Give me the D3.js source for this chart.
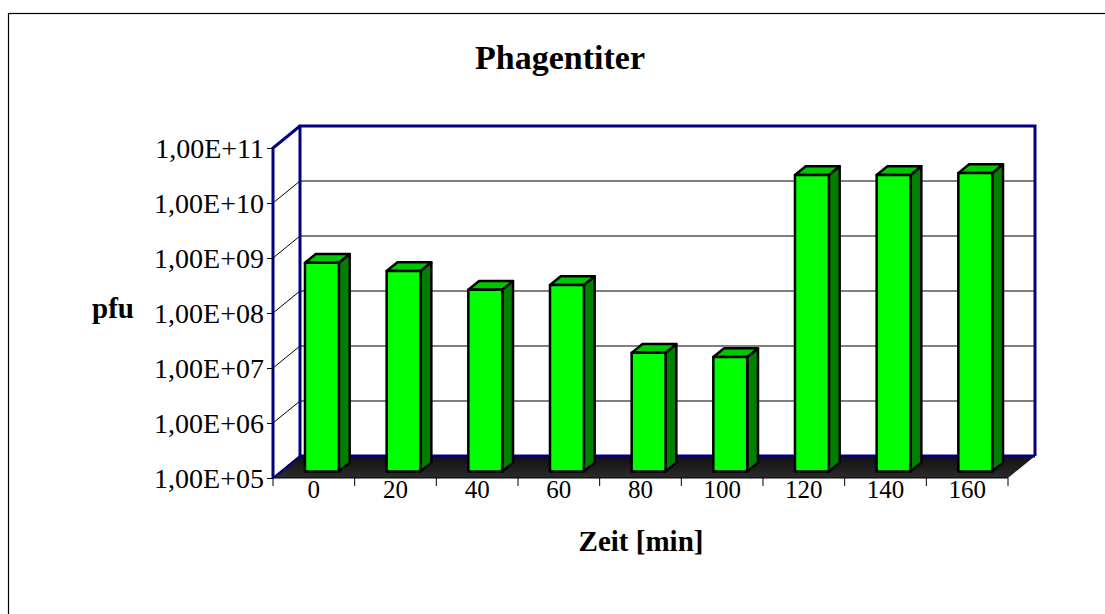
<!DOCTYPE html>
<html>
<head>
<meta charset="utf-8">
<script src="https://cdn.jsdelivr.net/npm/d3@7/dist/d3.min.js"></script>
<style>
  html, body { margin: 0; padding: 0; background: #fff; }
  svg { display: block; }
  text { font-family: "Liberation Serif", "Times New Roman", serif; fill: #000; }
</style>
</head>
<body>
<svg id="chart" width="1105" height="614"></svg>
<script>
// Phage titre (plaque forming units) sampled every 20 minutes
const categories = ["0", "20", "40", "60", "80", "100", "120", "140", "160"];
const pfuValues = [6.2e8, 4.4e8, 2.0e8, 2.45e8, 1.43e7, 1.2e7, 2.45e10, 2.45e10, 2.65e10];
const tickValues = [1e5, 1e6, 1e7, 1e8, 1e9, 1e10, 1e11];
const tickLabels = ["1,00E+05", "1,00E+06", "1,00E+07", "1,00E+08", "1,00E+09", "1,00E+10", "1,00E+11"];

const svg = d3.select("#chart");

// plot frame (front plane) and 3D depth offset
const plotLeft = 273, plotRight = 1008, plotBottom = 478, plotTop = 148;
const depthX = 27, depthY = -22;
const barFront = 0.3, barBack = 0.7;   // depth range occupied by the columns
const barWidthRatio = 0.415;

const x = d3.scaleBand().domain(categories).range([plotLeft, plotRight]);
const y = d3.scaleLog().domain([1e5, 1e11]).range([plotBottom, plotTop]);

// project a front-plane point back by depth fraction d
const P = (px, py, d) => [px + d * depthX, py + d * depthY];
const poly = pts => pts.map(p => p.join(",")).join(" ");

// outer chart border
svg.append("rect")
  .attr("x", 8.5).attr("y", 13.5)
  .attr("width", 1200).attr("height", 700)
  .attr("fill", "none").attr("stroke", "#000").attr("stroke-width", 1.2);

// title
svg.append("text")
  .attr("x", 560).attr("y", 69)
  .attr("text-anchor", "middle")
  .attr("font-size", 34).attr("font-weight", "bold")
  .text("Phagentiter");

const wallColor = "#000080";

// left side wall
svg.append("polygon")
  .attr("points", poly([[plotLeft, plotBottom], [plotLeft, plotTop], P(plotLeft, plotTop, 1), P(plotLeft, plotBottom, 1)]))
  .attr("fill", "#fff");

// back wall
svg.append("polygon")
  .attr("points", poly([P(plotLeft, plotTop, 1), P(plotRight, plotTop, 1), P(plotRight, plotBottom, 1), P(plotLeft, plotBottom, 1)]))
  .attr("fill", "#fff");

// gridlines: diagonal on side wall, horizontal on back wall
const grid = svg.append("g");
tickValues.forEach(v => {
  const yy = y(v);
  grid.append("line")
    .attr("x1", plotLeft).attr("y1", yy)
    .attr("x2", P(plotLeft, yy, 1)[0]).attr("y2", P(plotLeft, yy, 1)[1])
    .attr("stroke", "#000").attr("stroke-width", 1);
  grid.append("line")
    .attr("x1", P(plotLeft, yy, 1)[0]).attr("y1", P(plotLeft, yy, 1)[1])
    .attr("x2", P(plotRight, yy, 1)[0]).attr("y2", P(plotRight, yy, 1)[1])
    .attr("stroke", "#000").attr("stroke-width", 1);
});

// wall outlines
svg.append("polyline")
  .attr("points", poly([P(plotLeft, plotBottom, 1), P(plotLeft, plotTop, 1), P(plotRight, plotTop, 1), P(plotRight, plotBottom, 1)]))
  .attr("fill", "none").attr("stroke", wallColor).attr("stroke-width", 3);
svg.append("polyline")
  .attr("points", poly([[plotLeft, plotBottom], [plotLeft, plotTop], P(plotLeft, plotTop, 1)]))
  .attr("fill", "none").attr("stroke", wallColor).attr("stroke-width", 3);

// floor
const floorGrad = svg.append("defs").append("linearGradient")
  .attr("id", "floorGrad").attr("x1", 0).attr("y1", 0).attr("x2", 0).attr("y2", 1);
floorGrad.append("stop").attr("offset", 0).attr("stop-color", "#111");
floorGrad.append("stop").attr("offset", 1).attr("stop-color", "#2a2a2a");
svg.append("polygon")
  .attr("points", poly([[plotLeft, plotBottom], [plotRight, plotBottom], P(plotRight, plotBottom, 1), P(plotLeft, plotBottom, 1)]))
  .attr("fill", "url(#floorGrad)");
svg.append("line")
  .attr("x1", P(plotLeft, plotBottom, 1)[0]).attr("y1", P(plotLeft, plotBottom, 1)[1])
  .attr("x2", P(plotRight, plotBottom, 1)[0]).attr("y2", P(plotRight, plotBottom, 1)[1])
  .attr("stroke", wallColor).attr("stroke-width", 3);
svg.append("line")
  .attr("x1", plotLeft).attr("y1", plotBottom).attr("x2", P(plotLeft, plotBottom, 1)[0]).attr("y2", P(plotLeft, plotBottom, 1)[1])
  .attr("stroke", wallColor).attr("stroke-width", 2);

// columns
const bw = x.bandwidth() * barWidthRatio;
const bars = svg.append("g");
categories.forEach((c, i) => {
  const cx = x(c) + x.bandwidth() / 2;
  const x0 = cx - bw / 2, x1 = cx + bw / 2;
  const yb = y(1e5), yt = y(pfuValues[i]);
  const fbl = P(x0, yb, barFront), fbr = P(x1, yb, barFront);
  const ftl = P(x0, yt, barFront), ftr = P(x1, yt, barFront);
  const bbr = P(x1, yb, barBack), btl = P(x0, yt, barBack), btr = P(x1, yt, barBack);
  const g = bars.append("g")
    .attr("stroke", "#000").attr("stroke-width", 2.5).attr("stroke-linejoin", "round");
  g.append("polygon").attr("points", poly([fbr, ftr, btr, bbr])).attr("fill", "#008000");
  g.append("polygon").attr("points", poly([ftl, ftr, btr, btl])).attr("fill", "#00c800");
  g.append("polygon").attr("points", poly([fbl, fbr, ftr, ftl])).attr("fill", "#00ff00");
});

// value axis on the front-left edge
const yAxis = svg.append("g")
  .attr("transform", `translate(${plotLeft},0)`)
  .call(d3.axisLeft(y).tickValues(tickValues)
    .tickFormat((d, i) => tickLabels[i]).tickSize(6).tickPadding(3));
yAxis.select(".domain").remove();
yAxis.selectAll(".tick line").attr("stroke", "#000");
yAxis.selectAll(".tick text")
  .attr("font-family", "Liberation Serif, serif").attr("font-size", 28).attr("dy", "0.33em");

// category axis along the front edge of the floor
svg.append("line")
  .attr("x1", plotLeft).attr("y1", plotBottom).attr("x2", plotRight).attr("y2", plotBottom)
  .attr("stroke", "#000").attr("stroke-width", 1);
const xAxis = svg.append("g")
  .attr("transform", `translate(0,${plotBottom})`)
  .call(d3.axisBottom(x).tickSize(0).tickPadding(0));
xAxis.select(".domain").remove();
xAxis.selectAll(".tick text")
  .attr("font-family", "Liberation Serif, serif").attr("font-size", 25)
  .attr("dy", "0.72em").attr("y", 2);
categories.concat([null]).forEach((c, i) => {
  const xx = plotLeft + i * x.step();
  svg.append("line")
    .attr("x1", xx).attr("y1", plotBottom).attr("x2", xx).attr("y2", plotBottom + 8)
    .attr("stroke", "#000").attr("stroke-width", 1);
});

// axis titles
svg.append("text")
  .attr("x", 92).attr("y", 318)
  .attr("font-size", 29).attr("font-weight", "bold")
  .text("pfu");
svg.append("text")
  .attr("x", 641).attr("y", 551)
  .attr("text-anchor", "middle")
  .attr("font-size", 29).attr("font-weight", "bold")
  .text("Zeit [min]");
</script>
</body>
</html>
